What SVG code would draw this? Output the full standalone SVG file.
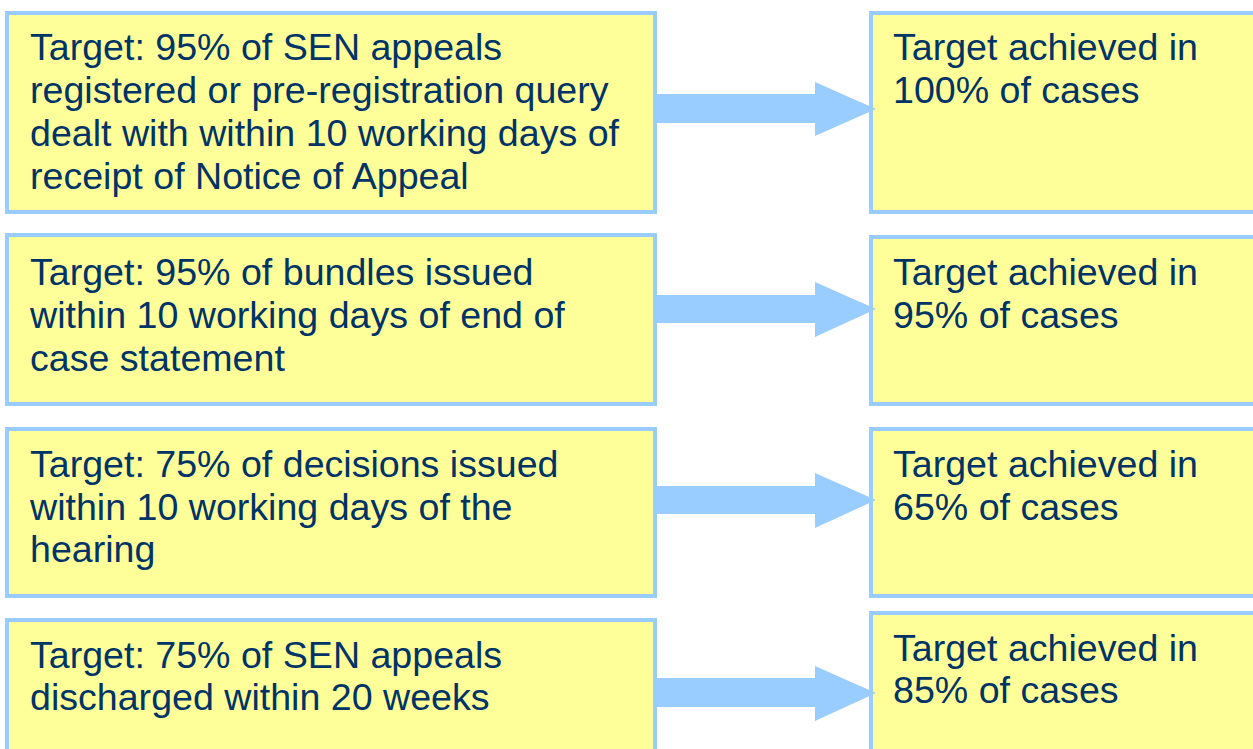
<svg xmlns="http://www.w3.org/2000/svg" width="1253" height="749" viewBox="0 0 1253 749">
<style>
.box{fill:#FFFF99;stroke:#99CCFF;stroke-width:4}
.t{font-family:"Liberation Sans",Arial,sans-serif;font-size:37.6px;fill:#003366}
.arr{fill:#99CCFF}
</style>
<rect width="1253" height="749" fill="#FFFFFF"/>
<g id="target1"><rect class="box" x="7" y="13" width="648" height="199"/>
<text class="t"><tspan x="30" y="60">Target: 95% of SEN appeals</tspan><tspan x="30" y="103">registered or pre-registration query</tspan><tspan x="30" y="146">dealt with within 10 working days of</tspan><tspan x="30" y="189">receipt of Notice of Appeal</tspan></text></g>
<g id="target2"><rect class="box" x="7" y="235" width="648" height="169"/>
<text class="t"><tspan x="30" y="285">Target: 95% of bundles issued</tspan><tspan x="30" y="328">within 10 working days of end of</tspan><tspan x="30" y="371">case statement</tspan></text></g>
<g id="target3"><rect class="box" x="7" y="429" width="648" height="167"/>
<text class="t"><tspan x="30" y="477">Target: 75% of decisions issued</tspan><tspan x="30" y="520">within 10 working days of the</tspan><tspan x="30" y="562">hearing</tspan></text></g>
<g id="target4"><rect class="box" x="7" y="620" width="648" height="140"/>
<text class="t"><tspan x="30" y="668">Target: 75% of SEN appeals</tspan><tspan x="30" y="710">discharged within 20 weeks</tspan></text></g>
<g id="result1"><rect class="box" x="871" y="13" width="400" height="199"/>
<text class="t"><tspan x="893" y="60">Target achieved in</tspan><tspan x="893" y="103">100% of cases</tspan></text></g>
<g id="result2"><rect class="box" x="871" y="237" width="400" height="167"/>
<text class="t"><tspan x="893" y="285">Target achieved in</tspan><tspan x="893" y="328">95% of cases</tspan></text></g>
<g id="result3"><rect class="box" x="871" y="429" width="400" height="167"/>
<text class="t"><tspan x="893" y="477">Target achieved in</tspan><tspan x="893" y="520">65% of cases</tspan></text></g>
<g id="result4"><rect class="box" x="871" y="613" width="400" height="150"/>
<text class="t"><tspan x="893" y="661">Target achieved in</tspan><tspan x="893" y="703">85% of cases</tspan></text></g>
<g id="connectors">
<polygon class="arr" points="655,94 815,94 815,82 876,109 815,136 815,123 655,123"/>
<polygon class="arr" points="655,295 815,295 815,282 876,309 815,337 815,323 655,323"/>
<polygon class="arr" points="655,486 815,486 815,473 876,500 815,528 815,514 655,514"/>
<polygon class="arr" points="655,678 815,678 815,666 876,693 815,721 815,707 655,707"/>
</g>
</svg>
